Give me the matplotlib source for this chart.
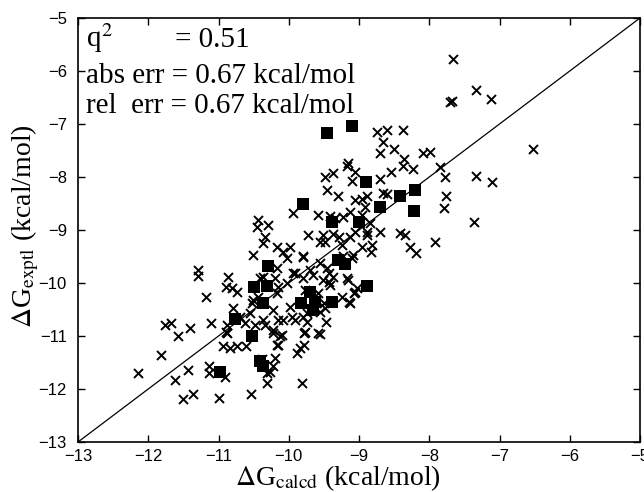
import numpy as np
import matplotlib
matplotlib.use("Agg")
import matplotlib.pyplot as plt

# calculated vs experimental binding free energies (kcal/mol)
# training set (crosses)
calc_x = [-12.15, -11.82, -11.58, -11.62, -11.43, -11.51, -11.37, -11.14, -11.14, -11.00,
          -10.91, -10.94, -10.84, -10.74, -10.61, -10.88, -10.54, -10.38, -10.31, -10.31,
          -10.22, -10.20, -10.17, -10.22, -10.12, -9.88, -9.84, -9.78, -9.81, -9.79,
          -9.58, -11.29, -11.29, -10.86, -11.18, -10.89, -10.81, -10.74, -11.76, -11.68,
          -11.41, -11.10, -10.88, -10.89, -10.79, -10.69, -10.62, -10.55, -10.52, -10.44,
          -10.41, -10.37, -10.20, -10.17, -10.03, -9.91, -10.48, -10.37, -10.34, -10.22,
          -10.15, -10.10, -10.15, -10.27, -9.95, -9.91, -9.94, -9.72, -9.55, -10.44,
          -10.45, -10.30, -10.34, -10.37, -10.51, -10.17, -10.08, -9.98, -10.03, -9.80,
          -9.70, -9.94, -10.17, -10.15, -9.98, -9.74, -10.22, -10.08, -10.51, -9.80,
          -9.51, -9.48, -9.37, -9.28, -9.24, -9.13, -9.06, -8.89, -8.89, -8.84,
          -8.96, -8.82, -8.83, -9.09, -9.23, -9.10, -9.42, -9.45, -9.42, -9.17,
          -9.03, -9.07, -9.24, -9.14, -9.50, -9.47, -9.55, -9.77, -9.74, -9.80,
          -9.16, -9.06, -9.13, -9.41, -9.51, -9.65, -9.55, -9.37, -9.80, -9.77,
          -9.58, -9.48, -9.55, -9.58, -9.41, -9.34, -9.23, -9.13, -8.96, -8.91,
          -9.06, -8.96, -8.89, -9.30, -9.46, -9.48, -9.37, -9.10, -9.06, -9.16,
          -9.17, -8.70, -8.60, -8.66, -8.54, -8.74, -8.60, -8.37, -8.66, -8.70,
          -8.50, -8.09, -7.99, -8.36, -8.37, -8.23, -7.85, -7.78, -7.76, -7.79,
          -7.92, -8.19, -8.27, -8.42, -8.35, -8.70, -7.70, -7.68, -7.66, -7.33,
          -7.12, -6.52, -7.33, -7.10, -7.36]
expt_y = [-11.70, -11.36, -11.00, -11.83, -11.64, -12.19, -12.09, -11.57, -11.70, -12.17,
          -11.77, -11.19, -11.23, -11.19, -11.19, -10.95, -12.09, -11.43, -11.70, -11.89,
          -11.57, -11.42, -11.17, -10.95, -11.00, -11.32, -11.23, -11.17, -11.89, -10.95,
          -10.95, -9.75, -9.87, -9.89, -10.26, -10.08, -10.10, -10.17, -10.79, -10.75,
          -10.85, -10.75, -10.79, -10.92, -10.47, -10.64, -10.75, -10.57, -10.38, -10.26,
          -9.91, -9.89, -9.91, -9.72, -10.00, -9.81, -10.79, -10.70, -10.79, -10.89,
          -10.70, -10.98, -11.17, -11.68, -10.64, -10.70, -8.68, -9.09, -9.23, -8.81,
          -8.94, -8.91, -9.13, -9.25, -9.47, -9.32, -9.42, -9.32, -9.53, -9.51,
          -9.75, -9.81, -10.19, -10.08, -10.45, -10.57, -10.51, -10.70, -10.32, -9.49,
          -9.09, -9.23, -9.08, -9.13, -9.28, -9.13, -9.04, -9.04, -9.09, -8.87,
          -9.32, -9.28, -9.42, -9.47, -9.49, -9.53, -9.81, -9.72, -9.98, -9.91,
          -10.09, -10.19, -10.26, -10.36, -10.38, -10.74, -10.96, -10.92, -10.74, -10.64,
          -9.94, -10.17, -10.38, -10.04, -9.94, -9.85, -9.62, -9.89, -9.91, -10.13,
          -10.19, -10.47, -10.55, -8.72, -8.74, -8.77, -8.75, -8.66, -8.72, -8.57,
          -8.43, -8.42, -8.36, -8.36, -8.25, -8.00, -7.92, -8.08, -7.91, -7.74,
          -7.79, -8.04, -8.32, -8.30, -7.91, -7.15, -7.11, -7.11, -7.34, -7.55,
          -7.47, -7.55, -7.53, -7.66, -7.79, -7.85, -7.81, -8.00, -8.36, -8.58,
          -9.23, -9.43, -9.32, -9.06, -9.09, -9.04, -6.58, -6.56, -5.77, -6.36,
          -6.53, -7.47, -7.98, -8.09, -8.85]

# test set (filled squares)
test_x = [-9.45, -9.10, -9.80, -8.90, -8.42, -8.20, -8.22, -8.70, -9.00, -9.38,
          -9.30, -9.20, -8.89, -9.38, -9.70, -9.63, -9.83, -9.65, -10.30, -10.49,
          -10.31, -10.37, -10.77, -10.52, -10.41, -10.37, -10.98]
test_y = [-7.17, -7.04, -8.50, -8.10, -8.35, -8.25, -8.65, -8.57, -8.85, -8.85,
          -9.57, -9.64, -10.06, -10.36, -10.17, -10.36, -10.38, -10.50, -9.68, -10.07,
          -10.05, -10.38, -10.67, -11.00, -11.48, -11.57, -11.67]

stats_lines = ["abs err = 0.67 kcal/mol", "rel  err = 0.67 kcal/mol"]
ticks = [-13, -12, -11, -10, -9, -8, -7, -6, -5]

plt.rcParams["mathtext.fontset"] = "stix"
serif = "Liberation Serif"
sans = "Liberation Sans"

fig = plt.figure(figsize=(6.44, 4.92), dpi=100)
ax = fig.add_axes([78/644, 1 - 442/492, 562/644, 424/492])

ax.plot([-13, -5], [-13, -5], color="black", linewidth=0.9)
ax.scatter(calc_x, expt_y, marker="x", s=42, color="black", linewidths=1.4)
ax.scatter(test_x, test_y, marker="s", s=85, color="black", linewidths=0)

ax.set_xlim(-13, -5)
ax.set_ylim(-13, -5)
ax.set_xticks(ticks)
ax.set_yticks(ticks)
ax.set_xticklabels([str(t).replace("-", "\u2212") for t in ticks], family=sans, fontsize=12)
ax.set_yticklabels([str(t).replace("-", "\u2212") for t in ticks], family=sans, fontsize=12)
ax.tick_params(direction="in", top=True, right=True, length=5, width=1)
ax.tick_params(axis="y", pad=8)
ax.tick_params(axis="x", pad=5)
for sp in ax.spines.values():
    sp.set_linewidth(1.2)

ax.set_xlabel(r"$\Delta$G$_{\rm calcd}$ (kcal/mol)", family=serif, fontsize=20)
ax.set_ylabel(r"$\Delta$G$_{\rm exptl}$ (kcal/mol)", family=serif, fontsize=20)
ax.xaxis.set_label_coords(0.463, -0.05, transform=ax.transAxes)
ax.xaxis.label.set_va("top")
ax.yaxis.set_label_coords(-0.066, 0.51, transform=ax.transAxes)

def axpos(px, py):
    return ((px - 78) / 562, (442 - py) / 424)

fs = 21
ax.text(*axpos(86, 47), r"q$^2$", transform=ax.transAxes, family=serif, fontsize=fs, va="baseline")
ax.text(*axpos(175, 47), "= 0.51", transform=ax.transAxes, family=serif, fontsize=fs, va="baseline")
ax.text(*axpos(86, 83), stats_lines[0], transform=ax.transAxes, family=serif, fontsize=fs, va="baseline")
ax.text(*axpos(86, 113), stats_lines[1], transform=ax.transAxes, family=serif, fontsize=fs, va="baseline")

fig.savefig("out.png", dpi=100)
